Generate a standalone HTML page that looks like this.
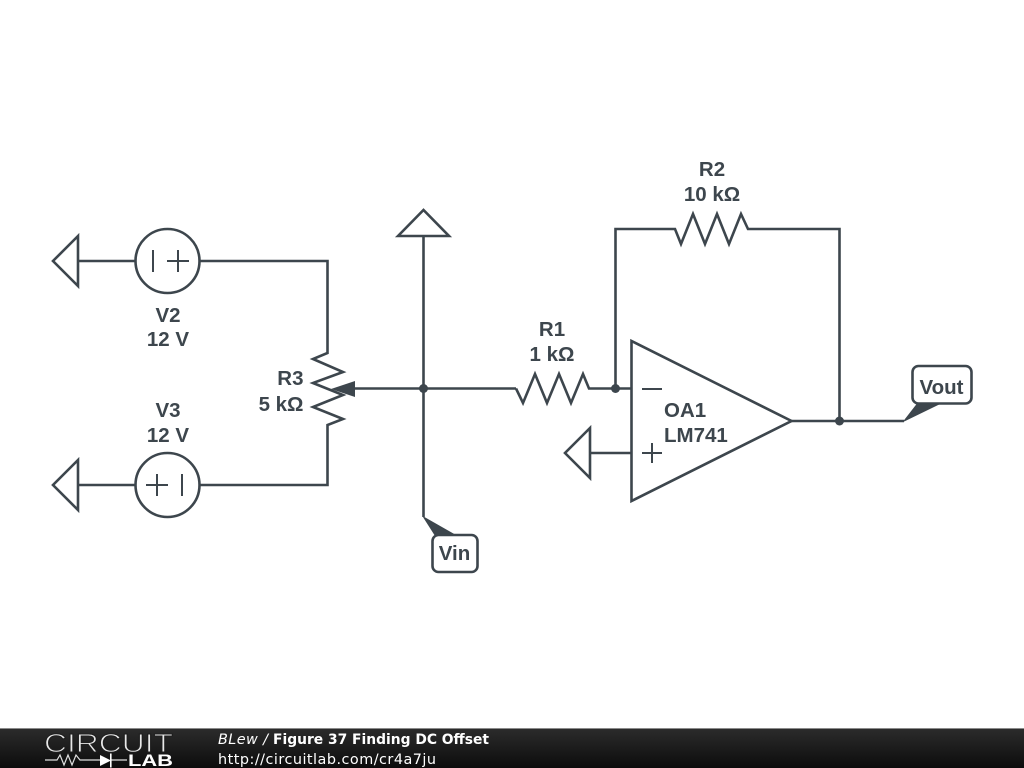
<!DOCTYPE html>
<html>
<head>
<meta charset="utf-8">
<title>Figure 37 Finding DC Offset</title>
<style>
html,body{margin:0;padding:0;background:#fff;width:1024px;height:768px;overflow:hidden}
svg{display:block}
.w{fill:none;stroke:#3d464d;stroke-width:2.6;stroke-linejoin:miter}
.t{font-family:"Liberation Sans",sans-serif;font-weight:bold;font-size:20.500px;fill:#3d464d}
.m{text-anchor:middle}
.d{fill:#3d464d}
.f{font-family:"DejaVu Sans",sans-serif;font-size:14.400px;fill:#fff}
</style>
</head>
<body>
<svg width="1024" height="768" viewBox="0 0 1024 768" xmlns="http://www.w3.org/2000/svg">
<defs>
<linearGradient id="g" x1="0" y1="0" x2="0" y2="1">
<stop offset="0" stop-color="#2c2c2c"/>
<stop offset="1" stop-color="#0c0c0c"/>
</linearGradient>
</defs>
<rect width="1024" height="768" fill="#fff"/>

<!-- V2 -->
<polygon class="w" points="78,236 53,261 78,286"/>
<path class="w" d="M78 261H135"/>
<circle class="w" cx="167.500" cy="261" r="32"/>
<path class="w" d="M153 250V272M167 261H189M178 250V272" style="stroke-width:2"/>
<path class="w" d="M200 261H327.500V353L313 359L343 372L313 383L343 395L313 407L343 419L327.500 425V485H200"/>

<!-- V3 -->
<polygon class="w" points="78,460 53,485 78,510"/>
<path class="w" d="M78 485H135"/>
<circle class="w" cx="167.500" cy="485" r="32"/>
<path class="w" d="M146 485H168M157 474V496M182 474V496" style="stroke-width:2"/>

<!-- Wiper -->
<path class="w" d="M350 388.500H516"/>
<polygon class="d" points="331,389 355,381 355,397"/>

<!-- Vertical node and ground -->
<polygon class="w" points="398,236 423.500,210 449,236"/>
<path class="w" d="M423.500 236V517"/>
<circle class="d" cx="423.500" cy="388.500" r="4.500"/>

<!-- Vin -->
<polygon class="d" stroke="#3d464d" stroke-width="1" points="423.500,517 435,535 455,535"/>
<rect x="432.500" y="535" width="45" height="37" rx="6" fill="#fff" stroke="#3d464d" stroke-width="2.600"/>
<text class="t m" x="454.500" y="560">Vin</text>

<!-- R1 -->
<path class="w" d="M516 388.500L523 403L535 374L547 403L559 374L571 403L583 374L589 388.500H631"/>
<circle class="d" cx="615.500" cy="388.500" r="4.500"/>

<!-- R2 -->
<path class="w" d="M615.500 388.500V229H675L681 244L693 214L705 244L717 214L729 244L741 214L748 229H839.500V421"/>

<!-- Op amp -->
<polygon class="w" points="631.500,341 631.500,501 791.500,421"/>
<path class="w" d="M642 389H662M642 453H662M652 443V463" style="stroke-width:2"/>
<polygon class="w" points="590,428 565,453 590,478"/>
<path class="w" d="M590 453H631"/>

<!-- Vout -->
<path class="w" d="M791.500 421H904"/>
<circle class="d" cx="839.500" cy="421" r="4.500"/>
<polygon class="d" stroke="#3d464d" stroke-width="1" points="904,421 918,403 941,403"/>
<rect x="912.500" y="366" width="59" height="37.500" rx="6" fill="#fff" stroke="#3d464d" stroke-width="2.600"/>
<text class="t m" x="941.500" y="394">Vout</text>

<!-- Labels -->
<text class="t m" x="712" y="176">R2</text>
<text class="t m" x="712" y="201">10 kΩ</text>
<text class="t m" x="552" y="336">R1</text>
<text class="t m" x="552" y="361">1 kΩ</text>
<text class="t m" x="168" y="322">V2</text>
<text class="t m" x="168" y="346">12 V</text>
<text class="t m" x="168" y="417">V3</text>
<text class="t m" x="168" y="442">12 V</text>
<text class="t" x="303.500" y="385" text-anchor="end">R3</text>
<text class="t" x="303.500" y="411" text-anchor="end">5 kΩ</text>
<text class="t" x="664" y="417">OA1</text>
<text class="t" x="664" y="442">LM741</text>

<!-- Footer -->
<rect x="0" y="728" width="1024" height="40" fill="url(#g)"/>
<rect x="0" y="728" width="1024" height="1" fill="#8a8a8a"/>
<text x="44" y="752" font-family="Liberation Sans,sans-serif" font-size="26" fill="#e8e8e8" stroke="#1e1e1e" stroke-width="1" textLength="129" lengthAdjust="spacingAndGlyphs" style="font-weight:normal">CIRCUIT</text>
<path d="M45 760H57L60 755L64 765L68 755L72 765L76 755L80 760H100M111 760H127" fill="none" stroke="#e0e0e0" stroke-width="1.200"/>
<polygon points="100,755 100,766 111,760.500" fill="#fff"/>
<rect x="110" y="753.500" width="1.600" height="14" fill="#fff"/>
<text x="128" y="766" font-family="Liberation Sans,sans-serif" font-size="17" font-weight="bold" fill="#fff" textLength="45" lengthAdjust="spacingAndGlyphs">LAB</text>
<text class="f" x="218" y="744" font-style="italic" textLength="50" lengthAdjust="spacing">BLew /</text>
<text class="f" x="273" y="744" font-weight="bold" textLength="216" lengthAdjust="spacingAndGlyphs">Figure 37 Finding DC Offset</text>
<text class="f" x="218" y="764" textLength="218" lengthAdjust="spacing">http://circuitlab.com/cr4a7ju</text>
</svg>
</body>
</html>
